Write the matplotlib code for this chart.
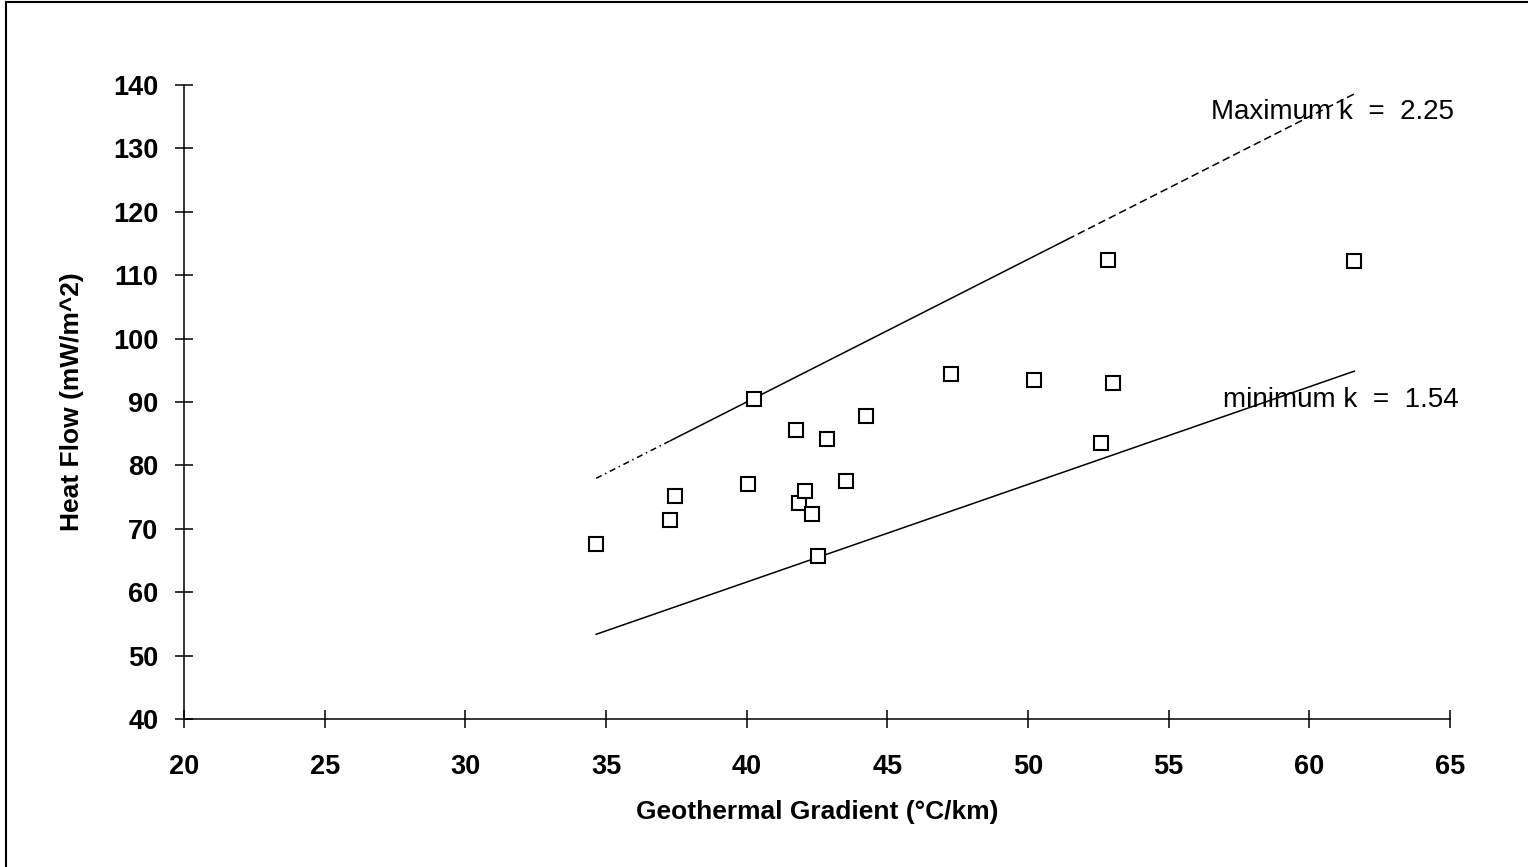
import matplotlib
matplotlib.use("Agg")
import matplotlib.pyplot as plt
from matplotlib.lines import Line2D
import numpy as np

plt.rcParams['font.family'] = ['Liberation Sans', 'DejaVu Sans']

# geothermal gradient (C/km) and heat flow (mW/m^2)
gradient = [34.65, 37.28, 37.45, 40.05, 40.26, 41.76, 41.86, 42.08, 42.33, 42.54,
            42.86, 43.53, 44.24, 47.27, 50.22, 52.60, 52.85, 53.03, 61.60]
heat_flow = [67.6, 71.4, 75.2, 77.1, 90.5, 85.6, 74.1, 76.0, 72.3, 65.7,
             84.2, 77.5, 87.8, 94.4, 93.5, 83.5, 112.4, 93.0, 112.2]

# conductivity bounds: q = k * gradient
k_max = 2.25
k_min = 1.54
x_start, x_end = 34.65, 61.6
# the scanned upper line changes style along its length
x_dashdot_end = 37.3
x_solid_end = 51.4

x_ticks = [20, 25, 30, 35, 40, 45, 50, 55, 60, 65]
y_ticks = [40, 50, 60, 70, 80, 90, 100, 110, 120, 130, 140]

fig = plt.figure(figsize=(15.28, 8.67), dpi=100)
ax = fig.add_axes([184 / 1528, 1 - 719 / 867, 1266 / 1528, 634 / 867])

lw = 1.1
xs = np.array([x_start, x_dashdot_end])
ax.plot(xs, k_max * xs, color='black', lw=lw, linestyle=(0, (4, 2.5, 1, 2.5)))
xs = np.array([x_dashdot_end, x_solid_end])
ax.plot(xs, k_max * xs, color='black', lw=lw)
xs = np.array([x_solid_end, x_end])
ax.plot(xs, k_max * xs, color='black', lw=lw, linestyle=(0, (5, 2.6)))
xs = np.array([x_start, x_end])
ax.plot(xs, k_min * xs, color='black', lw=lw)

ax.plot(gradient, heat_flow, linestyle='none', marker='s', ms=9.5,
        markerfacecolor='white', markeredgecolor='black', mew=1.5, zorder=3)

ax.text(56.5, 135.7, f"Maximum k  =  {k_max:.2f}", fontsize=20, ha='left', va='center')
ax.text(56.92, 90.3, f"minimum k  =  {k_min:.2f}", fontsize=20, ha='left', va='center')

ax.set_xlim(20, 65)
ax.set_ylim(40, 140)
ax.set_xticks(x_ticks)
ax.set_yticks(y_ticks)
ax.tick_params(direction='inout', length=13, width=1.1, labelsize=19.5)
ax.tick_params(axis='x', pad=19)
ax.tick_params(axis='y', pad=12)
for lab in ax.get_xticklabels() + ax.get_yticklabels():
    lab.set_fontweight('bold')

for s in ['top', 'right']:
    ax.spines[s].set_visible(False)
for s in ['left', 'bottom']:
    ax.spines[s].set_linewidth(1.1)

ax.set_xlabel("Geothermal Gradient (\u00b0C/km)", fontsize=19, fontweight='bold', va='center')
ax.xaxis.set_label_coords(0.5, -0.147)
ax.set_ylabel("Heat Flow (mW/m^2)", fontsize=19, fontweight='bold', va='center')
ax.yaxis.set_label_coords(-0.0885, 0.5)

# page frame from the scan (left and top edges only)
fig.add_artist(Line2D([6 / 1528, 6 / 1528], [0, 1 - 2 / 867], color='black', lw=1.5,
                      transform=fig.transFigure))
fig.add_artist(Line2D([6 / 1528, 1], [1 - 2 / 867, 1 - 2 / 867], color='black', lw=1.5,
                      transform=fig.transFigure))

fig.savefig('out.png', dpi=100)
